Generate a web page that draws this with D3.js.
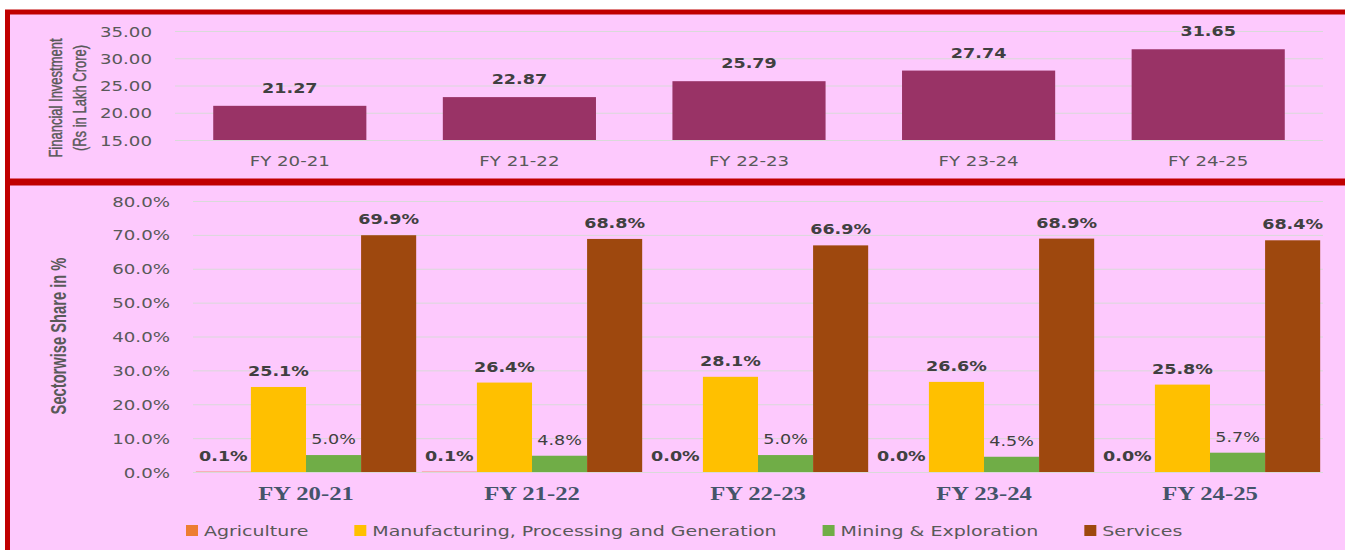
<!DOCTYPE html>
<html>
<head>
<meta charset="utf-8">
<script src="https://cdn.jsdelivr.net/npm/d3@7"></script>
<style>
  body { margin: 0; background: #fff; }
  svg { display: block; }
</style>
</head>
<body>
<svg id="chart" width="1345" height="550"></svg>
<script>
// data
const years = ["FY 20-21", "FY 21-22", "FY 22-23", "FY 23-24", "FY 24-25"];
const investment = [21.27, 22.87, 25.79, 27.74, 31.65];
const investTicks = [15, 20, 25, 30, 35];

const sectors = ["Agriculture", "Manufacturing, Processing and Generation", "Mining & Exploration", "Services"];
const agriculture = [0.1, 0.1, 0.0, 0.0, 0.0];
const manufacturing = [25.1, 26.4, 28.1, 26.6, 25.8];
const mining = [5.0, 4.8, 5.0, 4.5, 5.7];
const services = [69.9, 68.8, 66.9, 68.9, 68.4];
const shareTicks = [0, 10, 20, 30, 40, 50, 60, 70, 80];

const sectorColors = ["#ed7d31", "#ffc000", "#70ad47", "#9e480e"];
const sectorBold = [true, true, false, true];

const PINK = "#fdc9fd";
const RED = "#c00000";
const SX = 1.3;   // the picture is stretched sideways
const SY = 1.45;  // same stretch seen on rotated titles
const SANS = "DejaVu Sans, Verdana, sans-serif";
const ARIAL = "'Liberation Sans', Arial, sans-serif";

const svg = d3.select("#chart");

// panels
svg.append("rect")
  .attr("x", 7.5).attr("y", 12).attr("width", 1345).attr("height", 169)
  .attr("fill", PINK).attr("stroke", RED).attr("stroke-width", 5);
svg.append("rect")
  .attr("x", 7.5).attr("y", 183).attr("width", 1345).attr("height", 400)
  .attr("fill", PINK).attr("stroke", RED).attr("stroke-width", 5);

// ---------- top chart: financial investment ----------
const xTop = d3.scaleBand().domain(years).range([175, 1323])
  .paddingInner(0.333).paddingOuter(0.1665);
const yTop = d3.scaleLinear().domain([15, 35]).range([140, 31]);

svg.append("g")
  .attr("transform", "translate(175,0)")
  .call(d3.axisLeft(yTop).tickValues(investTicks).tickSize(-1148).tickFormat(d3.format(".2f")))
  .call(g => g.select(".domain").remove())
  .call(g => g.selectAll("line").attr("stroke", "#d9d9d9"))
  .call(g => g.selectAll("text")
    .attr("x", 0).attr("dy", "0.36em")
    .attr("transform", `translate(-23,0) scale(${SX},1)`)
    .attr("fill", "#595959").attr("font-size", 14).attr("font-family", SANS));

svg.append("g").selectAll("rect")
  .data(investment)
  .join("rect")
  .attr("x", (d, i) => xTop(years[i]))
  .attr("y", d => yTop(d))
  .attr("width", xTop.bandwidth())
  .attr("height", d => yTop(15) - yTop(d))
  .attr("fill", "#993366");

svg.append("g").selectAll("text")
  .data(investment)
  .join("text")
  .attr("transform", (d, i) => `translate(${xTop(years[i]) + xTop.bandwidth() / 2},${yTop(d) - 13}) scale(${SX},1)`)
  .attr("text-anchor", "middle")
  .attr("font-family", SANS).attr("font-size", 13.5).attr("font-weight", "bold")
  .attr("fill", "#404040")
  .text(d => d.toFixed(2));

svg.append("g")
  .attr("transform", "translate(0,140)")
  .call(d3.axisBottom(xTop).tickSize(0))
  .call(g => g.select(".domain").remove())
  .call(g => g.selectAll("text")
    .attr("y", 0).attr("dy", 0)
    .attr("transform", `translate(0,26) scale(${SX},1)`)
    .attr("fill", "#595959").attr("font-size", 14).attr("font-family", SANS));

// rotated titles: glyphs stretched across (local y)
const topTitle = svg.append("g")
  .attr("font-family", ARIAL).attr("font-size", 13).attr("fill", "#595959")
  .attr("stroke", "#595959").attr("stroke-width", 0.3)
  .attr("text-anchor", "middle");
topTitle.append("text")
  .attr("transform", `translate(55,98) rotate(-90) scale(1,${SY})`)
  .attr("dy", "0.35em").text("Financial Investment");
topTitle.append("text")
  .attr("transform", `translate(79,98) rotate(-90) scale(1,${SY})`)
  .attr("dy", "0.35em").text("(Rs in Lakh Crore)");

// ---------- bottom chart: sectorwise share ----------
const shares = [agriculture, manufacturing, mining, services];

const x0 = d3.scaleBand().domain(years).range([193, 1323])
  .paddingInner(0.025).paddingOuter(0.0125);
const x1 = d3.scaleBand().domain(sectors).range([0, x0.bandwidth()]);
const y = d3.scaleLinear().domain([0, 80]).range([472, 201]);

svg.append("g")
  .attr("transform", "translate(193,0)")
  .call(d3.axisLeft(y).tickValues(shareTicks).tickSize(-1130).tickFormat(d => d.toFixed(1) + "%"))
  .call(g => g.select(".domain").remove())
  .call(g => g.selectAll("line").attr("stroke", "#d9d9d9"))
  .call(g => g.selectAll("text")
    .attr("x", 0).attr("dy", "0.36em")
    .attr("transform", `translate(-23,0) scale(${SX},1)`)
    .attr("fill", "#595959").attr("font-size", 14).attr("font-family", SANS));

const groups = svg.append("g").selectAll("g")
  .data(years)
  .join("g")
  .attr("transform", d => `translate(${x0(d)},0)`);

groups.selectAll("rect")
  .data((yr, i) => sectors.map((s, k) => ({ s, k, v: shares[k][i] })))
  .join("rect")
  .attr("x", d => x1(d.s))
  .attr("y", d => y(d.v))
  .attr("width", x1.bandwidth())
  .attr("height", d => y(0) - y(d.v))
  .attr("fill", d => sectorColors[d.k]);

groups.selectAll("text")
  .data((yr, i) => sectors.map((s, k) => ({ s, k, v: shares[k][i] })))
  .join("text")
  .attr("transform", d => `translate(${x1(d.s) + x1.bandwidth() / 2},${y(d.v) - 11}) scale(${SX},1)`)
  .attr("text-anchor", "middle")
  .attr("font-family", SANS).attr("font-size", 13.5)
  .attr("font-weight", d => sectorBold[d.k] ? "bold" : "normal")
  .attr("fill", "#404040")
  .text(d => d.v.toFixed(1) + "%");

svg.append("g")
  .attr("transform", "translate(0,472)")
  .call(d3.axisBottom(x0).tickSize(0))
  .call(g => g.select(".domain").remove())
  .call(g => g.selectAll("text")
    .attr("y", 0).attr("dy", 0)
    .attr("transform", `translate(0,27.5) scale(${SX},1)`)
    .attr("fill", "#44546a").attr("font-size", 19).attr("font-weight", "bold")
    .attr("font-family", "'Liberation Serif', 'Times New Roman', serif"));

svg.append("text")
  .attr("transform", `translate(59,336) rotate(-90) scale(1,${SY})`)
  .attr("text-anchor", "middle").attr("dy", "0.35em")
  .attr("font-family", ARIAL).attr("font-size", 14.7).attr("font-weight", "bold")
  .attr("fill", "#595959")
  .text("Sectorwise Share in %");

// legend
const legend = svg.append("g").attr("transform", "translate(186,525)");
let lx = 0;
sectors.forEach((s, k) => {
  const item = legend.append("g").attr("transform", `translate(${lx},0)`);
  item.append("rect").attr("width", 12).attr("height", 11).attr("fill", sectorColors[k]);
  const t = item.append("text")
    .attr("transform", `translate(18,10.5) scale(${SX},1)`)
    .attr("font-family", SANS).attr("font-size", 14.6).attr("fill", "#595959")
    .text(s);
  lx += 18 + t.node().getComputedTextLength() * SX + 46;
});
</script>
</body>
</html>
